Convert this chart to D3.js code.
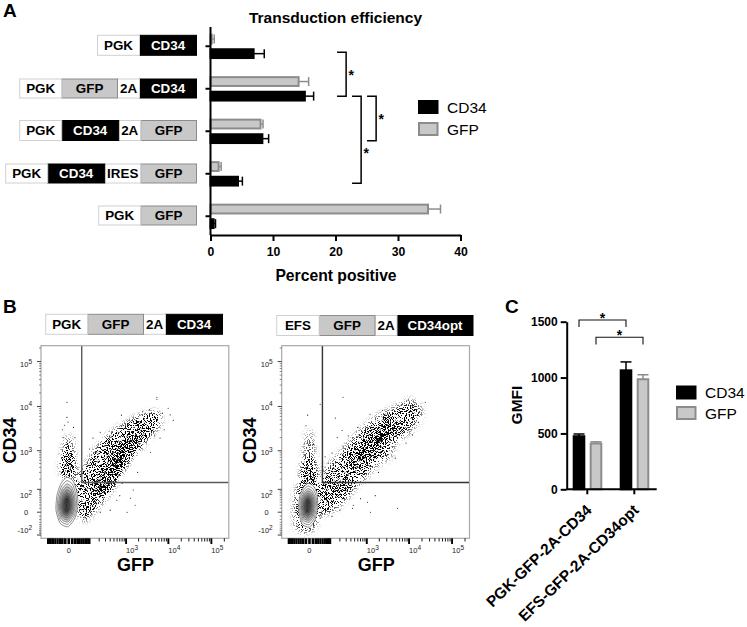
<!DOCTYPE html>
<html>
<head>
<meta charset="utf-8">
<style>
  body { margin: 0; background: #fff; }
  svg { display: block; font-family: "Liberation Sans", Arial, sans-serif; }
</style>
</head>
<body>
<svg id="chart" width="747" height="627"></svg>
<script src="https://d3js.org/d3.v7.min.js"></script>
<script>
// panel A
var rows = ["PGK-CD34", "PGK-GFP-2A-CD34", "PGK-CD34-2A-GFP", "PGK-CD34-IRES-GFP", "PGK-GFP"];
var cd34Pct = [6.9, 15.1, 8.3, 4.4, 0.5];
var cd34PctTop = [8.6, 16.5, 9.3, 5.1, 0.8];
var gfpPct = [0.2, 14.1, 8.0, 1.3, 34.8];
var gfpPctTop = [0.6, 15.7, 8.4, 1.7, 36.8];
var pctTicks = [0, 10, 20, 30, 40];

// panel C
var groups = ["PGK-GFP-2A-CD34", "EFS-GFP-2A-CD34opt"];
var cd34Gmfi = [475, 1065];
var cd34GmfiTop = [495, 1140];
var gfpGmfi = [410, 985];
var gfpGmfiTop = [425, 1025];
var gmfiTicks = [0, 500, 1000, 1500];

// panel B, values are [GFP, CD34]
var band1 = [[18,170],[82,453],[175,1140],[483,2650],[1820,5500],[5400,7500],[6400,4455],[3170,1950],[1490,920],[840,385],[483,134],[215,30],[60,-25],[25,20]];
var core1 = [[150,80],[293,340],[483,920],[960,1750],[1940,2650],[3000,2910],[2180,1355],[1130,670],[640,290],[350,95],[190,38]];
var column1 = [[-7,2000],[4,2000],[16,600],[13,255],[-21,255],[-21,670]];
var columnCore1 = [[-9,700],[6,700],[8,260],[-12,260]];
var contour1 = [[-5,225],[13,176],[27,80],[31,19],[19,-16],[-2,-50],[-29,-34],[-48,5],[-43,62],[-25,152]];
var strays1 = [[5400,16100],[5400,14500],[-5,12400],[-5,5700],[13000,4900],[9900,9100],[7200,7000],[215,2650],[130,1950],[770,6400],[2150,6400],[1060,0],[590,38],[1270,47],[1490,95],[3800,920],[4800,2200],[6400,1950],[-17,2000],[19,2000],[-2,4500],[215,0],[120,-6],[400,5],[68,-15],[1650,19],[-20,3000],[14,3400],[-12,3800],[8000,3000],[11000,6500],[3600,8500],[2500,7800],[300,1300],[170,900],[100,1100],[900,3200],[700,60],[800,150],[1900,300]];

var band2 = [[53,255],[115,540],[279,1140],[627,2650],[1600,5500],[4750,9600],[11900,13900],[20400,7500],[11900,3200],[4750,1550],[3300,670],[1600,453],[900,212],[440,108],[145,19],[48,0]];
var core2 = [[279,453],[507,1030],[900,1950],[2090,3730],[5360,5700],[6000,3200],[3300,2000],[1910,1140],[1090,600],[507,300]];
var core2b = [[1230,1550],[2750,3200],[4000,3730],[2750,2000],[1600,1140]];
var fringe2 = [[38,165],[279,255],[507,134],[200,19],[48,-7],[17,19]];
var column2 = [[-5,2650],[5,2650],[17,453],[21,165],[-27,165],[-19,600]];
var columnCore2 = [[-9,520],[7,520],[14,160],[-16,160]];
var halo2 = [[-30,150],[20,150],[30,10],[16,-50],[-15,-80],[-46,-60],[-60,0],[-48,80]];
var contour2 = [[-3,152],[12,125],[25,70],[27,15],[17,-22],[0,-52],[-24,-38],[-38,4],[-34,55],[-18,118]];
var strays2 = [[246,16100],[38,11200],[-5,6400],[-10,3700],[146,5500],[232,2900],[167,2000],[340,2200],[440,1950],[84,510],[64,720],[115,880],[246,1230],[1600,60],[1040,30],[5360,10],[1230,0],[440,10],[460,19],[200,5],[115,-11],[38,-16],[23900,12400],[21000,8800],[16500,4400],[9500,13900],[4750,670],[4000,720],[1910,300],[-15,1500],[12,1400],[-8,1150],[300,700],[200,620],[600,3400],[1200,6700],[2400,8200],[8500,1500],[12000,2300],[300,90],[700,45]];

var contourLevels = [1, 0.88, 0.77, 0.67, 0.57, 0.47, 0.38, 0.29, 0.2, 0.11];
var minorDecades = [100, 1000, 10000, 100000];
var decadeTicks = [1000, 10000, 100000];

var svg = d3.select("#chart");
var black = "#000", fillGrey = "#c8c8c8", strokeGrey = "#8c8c8c";
var defs = svg.append("defs");

var segWidth = {PGK: 42, EFS: 42.5, GFP: 55.8, CD34: 57, CD34opt: 76, "2A": 22, IRES: 36};

// construct cartoon, drawn right to left from its right end
function construct(names, right, cy, h) {
  var g = svg.append("g");
  var x = right;
  names.slice().reverse().forEach(function(n) {
    var w = segWidth[n];
    x -= w;
    var dark = n.indexOf("CD34") == 0, grey = n == "GFP";
    g.append("rect").attr("x", x).attr("y", cy - h / 2).attr("width", w).attr("height", h)
      .attr("fill", dark ? black : grey ? fillGrey : "#fff")
      .attr("stroke", dark ? black : grey ? strokeGrey : "#d0d0d0").attr("stroke-width", 1);
    g.append("text").attr("x", x + w / 2).attr("y", cy + 4.8).attr("text-anchor", "middle")
      .attr("font-size", 13.4).attr("font-weight", "bold").attr("fill", dark ? "#fff" : black).text(n);
  });
}

function panelLetter(t, x, y) {
  svg.append("text").attr("x", x).attr("y", y).attr("font-size", 19).attr("font-weight", "bold").text(t);
}

function legend(x, y0, y1) {
  [["CD34", y0, black, black], ["GFP", y1, fillGrey, strokeGrey]].forEach(function(d) {
    svg.append("rect").attr("x", x + 1).attr("y", d[1] + 1).attr("width", 18.5).attr("height", 12)
      .attr("fill", d[2]).attr("stroke", d[3]).attr("stroke-width", 2);
    svg.append("text").attr("x", x + 29).attr("y", d[1] + 12.5).attr("font-size", 15.5).text(d[0]);
  });
}

function thickAxis(g) {
  g.selectAll("path,line").attr("stroke", black).attr("stroke-width", 2);
  g.selectAll("text").attr("font-size", 12).attr("font-weight", "bold").attr("fill", black)
    .attr("font-family", "Liberation Sans");
}

// ---------- A
panelLetter("A", 3, 17);
svg.append("text").attr("x", 335.5).attr("y", 23).attr("text-anchor", "middle").attr("font-size", 15.5)
  .attr("font-weight", "bold").text("Transduction efficiency");

var xA = d3.scaleLinear().domain([0, 40]).range([210.5, 460.5]);
var yA = d3.scaleBand().domain(rows).range([25, 237.5]);
var subA = d3.scalePoint().domain(["GFP", "CD34"]).range([-7.2, 7.4]);
function rowMid(i) { return yA(rows[i]) + yA.bandwidth() / 2; }

function barsA(values, tops, key) {
  var dark = key == "CD34";
  var col = dark ? black : strokeGrey;
  var g = svg.append("g");
  values.forEach(function(v, i) {
    var cy = rowMid(i) + subA(key);
    g.append("line").attr("x1", xA(v)).attr("x2", xA(tops[i])).attr("y1", cy).attr("y2", cy)
      .attr("stroke", col).attr("stroke-width", 1.5);
    g.append("line").attr("x1", xA(tops[i])).attr("x2", xA(tops[i])).attr("y1", cy - 4.5).attr("y2", cy + 4.5)
      .attr("stroke", col).attr("stroke-width", 1.5);
    g.append("rect").attr("x", xA(0)).attr("y", cy - 4.4).attr("width", xA(v) - xA(0)).attr("height", 8.8)
      .attr("fill", dark ? black : fillGrey).attr("stroke", col).attr("stroke-width", 2);
  });
}
barsA(gfpPct, gfpPctTop, "GFP");
barsA(cd34Pct, cd34PctTop, "CD34");

var axA = svg.append("g").attr("transform", "translate(0,235)")
  .call(d3.axisBottom(xA).tickValues(pctTicks).tickSize(6).tickSizeOuter(0).tickPadding(6));
thickAxis(axA);
axA.selectAll("text").attr("font-size", 12.2);
var ayA = svg.append("g").attr("transform", "translate(210.5,0)")
  .call(d3.axisLeft(yA).tickSize(5).tickSizeOuter(0).tickFormat(""));
thickAxis(ayA);
ayA.select("path").attr("d", "M0,27V235");
svg.append("text").attr("x", 336).attr("y", 281).attr("text-anchor", "middle").attr("font-size", 15.7)
  .attr("font-weight", "bold").text("Percent positive");

construct(["PGK", "CD34"], 196.5, 45.3, 20);
construct(["PGK", "GFP", "2A", "CD34"], 196.5, 88.5, 19);
construct(["PGK", "CD34", "2A", "GFP"], 196.5, 130.5, 20);
construct(["PGK", "CD34", "IRES", "GFP"], 196.5, 173.5, 19);
construct(["PGK", "GFP"], 196.5, 215.5, 19);

// significance brackets: [x from, x to, first row, last row, extra px on the last row, star shift]
[[20.25, 21.7, 0, 1, 0, 0], [25.05, 26.5, 1, 2, 2, 0], [22.65, 24.1, 1, 3, 2, 13]].forEach(function(b) {
  var y0 = rowMid(b[2]) + subA("CD34") - (b[2] == 0 ? 1.5 : 0);
  var y1 = rowMid(b[3]) + subA("CD34") + b[4];
  svg.append("path").attr("fill", "none").attr("stroke", black).attr("stroke-width", 1.5)
    .attr("d", "M" + xA(b[0]) + "," + y0 + "H" + xA(b[1]) + "V" + y1 + "H" + xA(b[0]));
  svg.append("text").attr("x", xA(b[1]) + 5).attr("y", (y0 + y1) / 2 + 5.5 + b[5]).attr("text-anchor", "middle")
    .attr("font-size", 14).attr("font-weight", "bold").text("*");
});
legend(418, 100, 122);

// ---------- B
panelLetter("B", 3, 313);
construct(["PGK", "GFP", "2A", "CD34"], 222.5, 324.3, 20);
construct(["EFS", "GFP", "2A", "CD34opt"], 473, 325.5, 20);

function speckle(id, seed, box) {
  var f = defs.append("filter").attr("id", id).attr("filterUnits", "userSpaceOnUse")
    .attr("x", box[0]).attr("y", box[1]).attr("width", box[2]).attr("height", box[3])
    .attr("color-interpolation-filters", "sRGB");
  f.append("feGaussianBlur").attr("in", "SourceAlpha").attr("stdDeviation", 3.6).attr("result", "soft");
  f.append("feTurbulence").attr("type", "fractalNoise").attr("baseFrequency", 0.95).attr("numOctaves", 2)
    .attr("seed", seed).attr("result", "noise");
  f.append("feColorMatrix").attr("in", "noise").attr("type", "matrix")
    .attr("values", "0 0 0 0 0  0 0 0 0 0  0 0 0 0 0  6 0 0 0 -2.5").attr("result", "grain");
  f.append("feComposite").attr("in", "soft").attr("in2", "grain").attr("operator", "arithmetic")
    .attr("k1", 0).attr("k2", 1).attr("k3", 1).attr("k4", -1).attr("result", "mix");
  f.append("feComponentTransfer").attr("in", "mix").attr("result", "hard")
    .append("feFuncA").attr("type", "linear").attr("slope", 3.5).attr("intercept", 0);
  f.append("feGaussianBlur").attr("in", "hard").attr("stdDeviation", 0.42);
}

function biexTickLabel(g, x, y, exp, neg, anchor) {
  var t = g.append("text").attr("x", x).attr("y", y).attr("font-size", 7.5).attr("fill", "#222")
    .attr("text-anchor", anchor);
  t.append("tspan").text((neg ? "-" : "") + "10");
  t.append("tspan").attr("dy", -3.5).attr("font-size", 6.5).text(exp);
}

function flowPlot(o) {
  var x = d3.scaleSymlog().constant(49).domain([-167, 254000]).range([o.left, o.left + 187.8]);
  var y = d3.scaleSymlog().constant(45).domain([-126, 225000]).range([538.3, 345.7]);
  var g = svg.append("g");
  var closed = d3.line().x(function(d) { return x(d[0]); }).y(function(d) { return y(d[1]); })
    .curve(d3.curveCardinalClosed.tension(0.4));

  speckle(o.id, o.seed, [o.left - 8, 340, 200, 205]);
  var clouds = g.append("g").attr("filter", "url(#" + o.id + ")");
  o.areas.forEach(function(a) {
    clouds.append("path").attr("d", closed(a[0])).attr("fill", black).attr("fill-opacity", a[1]);
  });

  g.append("g").selectAll("circle").data(o.strays).enter().append("circle")
    .attr("cx", function(d) { return x(d[0]); }).attr("cy", function(d) { return y(d[1]); })
    .attr("r", 0.55).attr("fill", "#111");

  // contour stack, each level shrunk towards the mode of the negative population
  var cx = x(-6), cy = y(16);
  var shade = d3.scaleLinear().domain([1, 7]).range(["#ffffff", "#2a2a2a"]).clamp(true);
  contourLevels.forEach(function(s, i) {
    g.append("path").attr("d", closed(o.contour))
      .attr("transform", "translate(" + cx + "," + cy + ") scale(" + s + ") translate(" + (-cx) + "," + (-cy) + ")")
      .attr("fill", shade(i)).attr("stroke", "#5c5c5c").attr("stroke-width", 0.7 / s);
  });

  // gates and frame
  var gx = x(49), gy = y(161);
  g.append("path").attr("fill", "none").attr("stroke", o.gate).attr("stroke-width", 1.4)
    .attr("d", "M" + gx + "," + y.range()[1] + "V" + gy + "H" + x.range()[1]);
  g.append("rect").attr("x", x.range()[0]).attr("y", y.range()[1])
    .attr("width", x.range()[1] - x.range()[0]).attr("height", y.range()[0] - y.range()[1])
    .attr("fill", "none").attr("stroke", "#a8a8a8").attr("stroke-width", 1.2);

  // biexponential ticks
  var linear = d3.range(-100, 101, 10);
  var logs = [];
  minorDecades.forEach(function(dec) { d3.range(1, 10).forEach(function(m) { logs.push(m * dec); }); });
  var bottom = g.append("g").attr("stroke", "#000");
  linear.concat(logs.filter(function(v) { return v > 100 && v < 254000; })).forEach(function(v) {
    var major = decadeTicks.indexOf(v) >= 0 || Math.abs(v) <= 100;
    bottom.append("line").attr("x1", x(v)).attr("x2", x(v)).attr("y1", 538.3).attr("y2", major ? 544 : 541.5)
      .attr("stroke-width", Math.abs(v) <= 30 ? 2.6 : major ? 1.9 : 0.9);
  });
  var left = g.append("g").attr("stroke", "#444");
  linear.concat(logs.filter(function(v) { return v > 100 && v < 225000; })).forEach(function(v) {
    var major = [100, 1000, 10000, 100000, 0, -100].indexOf(v) >= 0;
    left.append("line").attr("x1", o.left).attr("x2", o.left - (major ? 4 : 2)).attr("y1", y(v)).attr("y2", y(v))
      .attr("stroke-width", major ? 1 : 0.6);
  });

  g.append("text").attr("x", x(0)).attr("y", 553).attr("text-anchor", "middle").attr("font-size", 7.5).attr("fill", "#222").text("0");
  [[1000, "3"], [10000, "4"], [100000, "5"]].forEach(function(d) {
    biexTickLabel(g, x(d[0]), 553, d[1], false, "start");
  });
  [[100000, "5", 5.5], [10000, "4", 3.5], [1000, "3", 4.5], [100, "2", 9]].forEach(function(d) {
    biexTickLabel(g, o.left - 9, y(d[0]) + d[2], d[1], false, "end");
  });
  biexTickLabel(g, o.left - 9, 533, "2", true, "end");
  g.append("text").attr("x", o.left - 15).attr("y", y(0) + 2.5).attr("text-anchor", "middle").attr("font-size", 7.5).attr("fill", "#222").text("0");

  g.append("text").attr("x", o.left + 94.5).attr("y", 571).attr("text-anchor", "middle")
    .attr("font-size", 18).attr("font-weight", "bold").text("GFP");
  g.append("text").attr("transform", "translate(" + (o.left - 25.5) + ",440.5) rotate(-90)").attr("text-anchor", "middle")
    .attr("font-size", 18).attr("font-weight", "bold").text("CD34");
}

flowPlot({
  id: "sp1", seed: 4, left: 41, gate: "#5a5a5a", contour: contour1, strays: strays1,
  areas: [[band1, 0.42], [core1, 0.72], [column1, 0.36], [columnCore1, 0.7]]
});
flowPlot({
  id: "sp2", seed: 11, left: 281.7, gate: "#333", contour: contour2, strays: strays2,
  areas: [[band2, 0.3], [core2, 0.55], [core2b, 0.85], [fringe2, 0.22], [column2, 0.28], [columnCore2, 0.75], [halo2, 0.35]]
});

// ---------- C
panelLetter("C", 505, 313);
var xC = d3.scaleBand().domain(groups).range([563.8, 657.8]);
var subC = d3.scalePoint().domain(["CD34", "GFP"]).range([-8.3, 8.7]);
var yC = d3.scaleLinear().domain([0, 1500]).range([489.3, 321.7]);
function groupMid(i) { return xC(groups[i]) + xC.bandwidth() / 2; }

function barsC(values, tops, key) {
  var dark = key == "CD34";
  var col = dark ? black : strokeGrey;
  var g = svg.append("g");
  values.forEach(function(v, i) {
    var cx = groupMid(i) + subC(key);
    g.append("line").attr("x1", cx).attr("x2", cx).attr("y1", yC(v)).attr("y2", yC(tops[i]))
      .attr("stroke", col).attr("stroke-width", 1.5);
    g.append("line").attr("x1", cx - 5.5).attr("x2", cx + 5.5).attr("y1", yC(tops[i])).attr("y2", yC(tops[i]))
      .attr("stroke", col).attr("stroke-width", 1.5);
    g.append("rect").attr("x", cx - 5.3).attr("y", yC(v)).attr("width", 10.6).attr("height", yC(0) - yC(v))
      .attr("fill", dark ? black : fillGrey).attr("stroke", col).attr("stroke-width", 2);
  });
}
barsC(cd34Gmfi, cd34GmfiTop, "CD34");
barsC(gfpGmfi, gfpGmfiTop, "GFP");

var ayC = svg.append("g").attr("transform", "translate(566.7,0)")
  .call(d3.axisLeft(yC).tickValues(gmfiTicks).tickSize(6).tickSizeOuter(0).tickPadding(3).tickFormat(d3.format("d")));
thickAxis(ayC);
var axC = svg.append("g").attr("transform", "translate(0,489.3)")
  .call(d3.axisBottom(xC).tickSize(5).tickSizeOuter(0).tickPadding(5));
thickAxis(axC);
axC.select("path").attr("d", "M566.7,0H656.7");
axC.selectAll("text").attr("font-size", 15.4).attr("text-anchor", "end")
  .attr("transform", "translate(-9,7) rotate(-44)").attr("dy", "0.7em");

svg.append("text").attr("transform", "translate(522,405) rotate(-90)").attr("text-anchor", "middle")
  .attr("font-size", 15.5).attr("font-weight", "bold").text("GMFI");

[["CD34", 1515, 1453], ["GFP", 1361, 1296]].forEach(function(b) {
  var x0 = groupMid(0) + subC(b[0]), x1 = groupMid(1) + subC(b[0]);
  svg.append("path").attr("fill", "none").attr("stroke", "#111").attr("stroke-width", 1.1)
    .attr("d", "M" + x0 + "," + yC(b[2]) + "V" + yC(b[1]) + "H" + x1 + "V" + yC(b[2]));
  svg.append("text").attr("x", (x0 + x1) / 2).attr("y", yC(b[1]) + 3).attr("text-anchor", "middle")
    .attr("font-size", 14).attr("font-weight", "bold").text("*");
});
legend(676, 385.5, 406);
</script>
</body>
</html>
